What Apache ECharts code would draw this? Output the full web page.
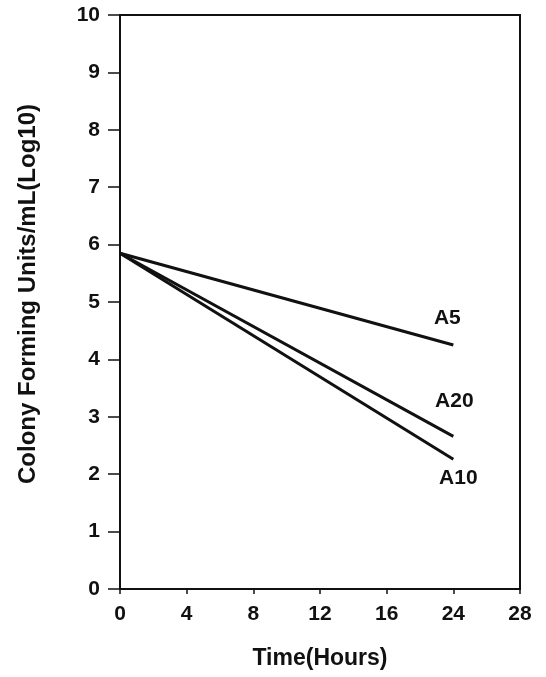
<!DOCTYPE html>
<html>
<head>
<meta charset="utf-8">
<script src="https://cdn.jsdelivr.net/npm/echarts@6/dist/echarts.min.js"></script>
<style>
html,body{margin:0;padding:0;background:#fff;}
#c{width:546px;height:677px;}
</style>
</head>
<body>
<div id="c"></div>
<script>
// Tick labels of the time axis as printed (the original prints "24" where 20 would be)
const timeLabels = ['0', '4', '8', '12', '16', '24', '28'];
const yTicks = [0, 1, 2, 3, 4, 5, 6, 7, 8, 9, 10];
const seriesNames = ['A5', 'A20', 'A10'];
const startTime = '0';
const endTime = '24';
const startValues = [5.85, 5.85, 5.85];
const endValues = [4.25, 2.66, 2.26];
const labelPositions = [[-6, -27], [1, -35], [5, 19]];

const FONT = 'Liberation Sans, Arial, sans-serif';

function buildData(i) {
  return timeLabels.map(function (t) {
    if (t === startTime) return startValues[i];
    if (t === endTime) {
      return {
        value: endValues[i],
        label: {
          show: true,
          formatter: seriesNames[i],
          position: labelPositions[i],
          align: 'center',
          verticalAlign: 'middle',
          color: '#111',
          fontFamily: FONT,
          fontWeight: 'bold',
          fontSize: 21
        }
      };
    }
    return null;
  });
}

const chart = echarts.init(document.getElementById('c'), null, {renderer: 'canvas'});
chart.setOption({
  backgroundColor: '#fff',
  animation: false,
  grid: {
    left: 120, right: 26, top: 15, bottom: 88,
    show: true, borderColor: '#111', borderWidth: 2, backgroundColor: 'transparent'
  },
  xAxis: {
    type: 'category',
    data: timeLabels,
    boundaryGap: false,
    name: 'Time(Hours)',
    nameLocation: 'middle',
    nameGap: 58,
    nameTextStyle: {color: '#111', fontFamily: FONT, fontWeight: 'bold', fontSize: 23},
    axisLine: {lineStyle: {color: '#111', width: 2}},
    axisTick: {show: true, length: 5, inside: false, lineStyle: {color: '#111', width: 1.5}},
    axisLabel: {color: '#111', fontFamily: FONT, fontWeight: 'bold', fontSize: 21, margin: 15},
    splitLine: {show: false}
  },
  yAxis: {
    type: 'value',
    min: yTicks[0],
    max: yTicks[yTicks.length - 1],
    interval: 1,
    name: 'Colony Forming Units/mL(Log10)',
    nameLocation: 'middle',
    nameGap: 80,
    nameRotate: 90,
    nameTextStyle: {color: '#111', fontFamily: FONT, fontWeight: 'bold', fontSize: 24, padding: [0, 0, 0, 16]},
    axisLine: {show: true, lineStyle: {color: '#111', width: 2}},
    axisTick: {show: true, length: 12, inside: false, lineStyle: {color: '#111', width: 1.5}},
    axisLabel: {color: '#111', fontFamily: FONT, fontWeight: 'bold', fontSize: 21, margin: 20},
    splitLine: {show: false}
  },
  series: seriesNames.map(function (name, i) {
    return {
      name: name,
      type: 'line',
      data: buildData(i),
      connectNulls: true,
      showSymbol: true,
      symbol: 'circle',
      symbolSize: 0.01,
      lineStyle: {color: '#111', width: 3},
      itemStyle: {color: '#111'},
      emphasis: {disabled: true}
    };
  })
});
</script>
</body>
</html>
